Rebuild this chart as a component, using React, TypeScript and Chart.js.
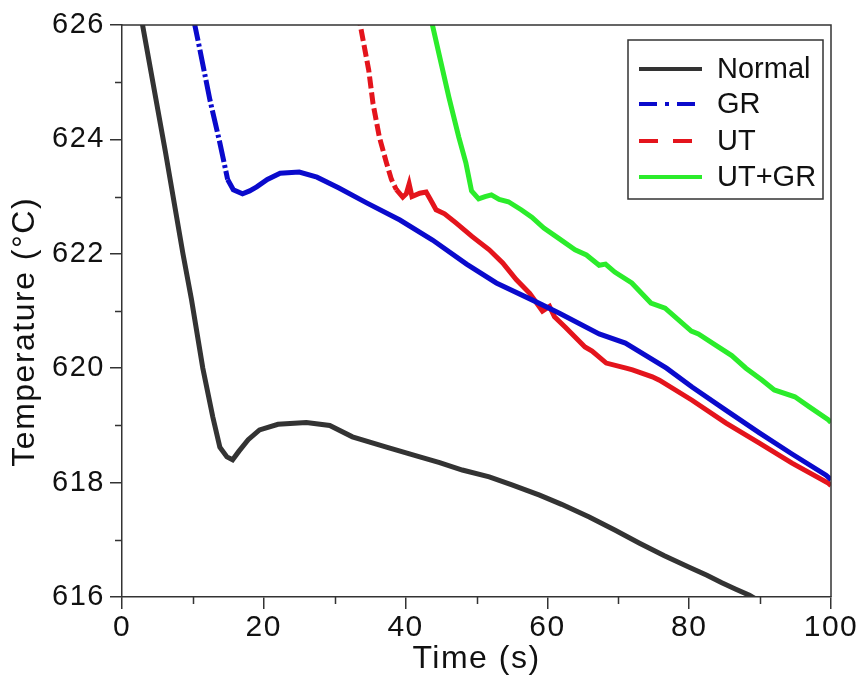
import React, { useEffect, useRef } from 'react';
import { Chart, registerables } from 'chart.js';

Chart.register(...registerables);

const FONT = "'Liberation Sans', Arial, Helvetica, sans-serif";

// ---- data ----
const seriesNames = ['Normal', 'GR', 'UT', 'UT+GR'];
const seriesColors = ['#333333', '#0a0acc', '#e4141c', '#2bec2b'];
const legendDashes = [[], [18, 8, 4, 8], [19, 15], []];

const normalTime = [2.6, 2.9, 6.1, 8.6, 9.8, 11.4, 12.8, 13.8, 14.8, 15.6, 16.5, 17.8, 19.4, 22.0, 26.0, 29.3, 32.5, 37.3, 42.0, 44.8, 48.0, 51.8, 55.0, 58.9, 62.0, 65.9, 69.5, 73.0, 76.5, 80.0, 82.5, 84.6, 86.5, 88.5, 89.6];
const normalTemp = [626.2, 626.0, 623.8, 622.0, 621.2, 620.0, 619.15, 618.62, 618.45, 618.4, 618.55, 618.75, 618.92, 619.02, 619.05, 619.0, 618.8, 618.62, 618.45, 618.35, 618.22, 618.1, 617.96, 617.78, 617.62, 617.4, 617.17, 616.94, 616.72, 616.52, 616.38, 616.25, 616.14, 616.03, 615.95];

const grTime = [10.1, 11.0, 12.4, 13.8, 14.9, 15.7, 17.0, 18.0, 19.0, 20.5, 22.3, 25.0, 27.5, 30.6, 34.5, 39.2, 43.8, 48.6, 52.8, 57.9, 61.7, 67.3, 71.0, 76.8, 80.4, 85.0, 89.9, 94.5, 99.3, 100];
const grTemp = [626.1, 625.56, 624.69, 623.94, 623.3, 623.12, 623.05, 623.1, 623.17, 623.3, 623.41, 623.43, 623.34, 623.15, 622.89, 622.59, 622.24, 621.82, 621.49, 621.19, 620.96, 620.6, 620.44, 620.0, 619.67, 619.28, 618.87, 618.5, 618.13, 618.05];

const utTime = [33.3, 34.8, 35.4, 36.3, 37.3, 38.0, 38.7, 39.6, 40.1, 40.5, 40.9, 42.0, 42.9, 43.5, 44.3, 45.5, 47.1, 49.4, 51.8, 53.7, 55.6, 57.5, 59.3, 60.3, 61.0, 62.5, 65.3, 66.3, 68.3, 71.1, 72.0, 74.8, 75.8, 80.4, 85.2, 89.9, 94.5, 99.6, 100];
const utTemp = [626.2, 625.21, 624.63, 624.04, 623.59, 623.3, 623.12, 622.99, 623.05, 623.22, 623.0, 623.06, 623.08, 622.95, 622.77, 622.7, 622.54, 622.3, 622.07, 621.84, 621.55, 621.31, 621.0, 621.08, 620.9, 620.72, 620.37, 620.3, 620.09, 620.0, 619.97, 619.85, 619.79, 619.44, 619.04, 618.69, 618.34, 617.99, 617.95];

const utgrTime = [43.6, 44.7, 46.1, 47.5, 48.5, 49.3, 50.3, 51.2, 52.1, 53.2, 54.5, 56.3, 57.8, 59.5, 61.6, 63.9, 65.5, 67.3, 68.2, 69.5, 71.9, 74.6, 76.6, 80.3, 81.3, 83.5, 86.0, 88.0, 90.3, 92.0, 94.9, 97.0, 99.6, 100];
const utgrTemp = [626.1, 625.5, 624.74, 624.04, 623.59, 623.1, 622.96, 623.0, 623.03, 622.95, 622.91, 622.77, 622.64, 622.45, 622.27, 622.07, 621.98, 621.8, 621.82, 621.68, 621.49, 621.14, 621.05, 620.65, 620.6, 620.42, 620.22, 620.0, 619.79, 619.62, 619.5, 619.32, 619.1, 619.05];

const xTickValues = [0, 20, 40, 60, 80, 100];
const xMinorValues = [10, 30, 50, 70, 90];
const yTickValues = [616, 618, 620, 622, 624, 626];
const yMinorValues = [617, 619, 621, 623, 625];

const xTitle = 'Time (s)';
const yTitle = 'Temperature (°C)';

function toPoints(t: number[], v: number[]) {
  return t.map((x, i) => ({ x, y: v[i] }));
}

const framePlugin = {
  id: 'frameAndLegend',
  beforeDraw(chart: any) {
    (chart.ctx as any).letterSpacing = '1.5px';
  },
  afterDraw(chart: any) {
    const ctx = chart.ctx as CanvasRenderingContext2D;
    (ctx as any).letterSpacing = '0px';
    const { left, top, right, bottom } = chart.chartArea;
    const xs = chart.scales.x;
    const ys = chart.scales.y;
    ctx.save();
    ctx.strokeStyle = '#333333';
    ctx.lineWidth = 1.5;
    ctx.beginPath();
    ctx.moveTo(left, top);
    ctx.lineTo(right, top);
    ctx.lineTo(right, bottom);
    ctx.stroke();
    // minor ticks
    ctx.beginPath();
    xMinorValues.forEach((v) => {
      const px = Math.round(xs.getPixelForValue(v)) + 0.5;
      ctx.moveTo(px, bottom);
      ctx.lineTo(px, bottom + 7);
    });
    yMinorValues.forEach((v) => {
      const py = Math.round(ys.getPixelForValue(v)) + 0.5;
      ctx.moveTo(left - 7, py);
      ctx.lineTo(left, py);
    });
    ctx.stroke();

    // legend inside the plot
    const bx = right - 203;
    const by = top + 15;
    const bw = 195;
    const bh = 159;
    ctx.fillStyle = '#ffffff';
    ctx.fillRect(bx, by, bw, bh);
    ctx.strokeStyle = '#333333';
    ctx.lineWidth = 1.5;
    ctx.strokeRect(bx, by, bw, bh);
    const rows = [29, 64, 101, 137];
    ctx.font = `29px ${FONT}`;
    ctx.textBaseline = 'middle';
    ctx.textAlign = 'left';
    chart.data.datasets.forEach((ds: any, i: number) => {
      const y = by + rows[i];
      ctx.save();
      ctx.strokeStyle = ds.borderColor;
      ctx.lineWidth = 4;
      ctx.lineCap = 'butt';
      ctx.setLineDash(legendDashes[i]);
      ctx.beginPath();
      ctx.moveTo(bx + 11, y);
      ctx.lineTo(bx + 74, y);
      ctx.stroke();
      ctx.restore();
      ctx.fillStyle = '#111111';
      ctx.fillText(ds.label, bx + 89, y + 1);
    });
    ctx.restore();
  },
};

export default function App() {
  const ref = useRef<HTMLCanvasElement | null>(null);

  useEffect(() => {
    if (!ref.current) return;
    const series = [
      toPoints(normalTime, normalTemp),
      toPoints(grTime, grTemp),
      toPoints(utTime, utTemp),
      toPoints(utgrTime, utgrTemp),
    ];
    const steepDash: ((c: any) => number[] | undefined)[] = [
      () => undefined,
      (c: any) => (c.p0.parsed.x < 14.9 ? [22, 3, 3, 3] : undefined),
      (c: any) => (c.p0.parsed.x < 38.5 ? [12, 4] : undefined),
      () => undefined,
    ];
    const chart = new Chart(ref.current, {
      type: 'line',
      data: {
        datasets: series.map((pts, i) => ({
          label: seriesNames[i],
          data: pts,
          borderColor: seriesColors[i],
          backgroundColor: seriesColors[i],
          borderWidth: 5,
          pointRadius: 0,
          tension: 0,
          fill: false,
          segment: { borderDash: steepDash[i] },
        })),
      },
      options: {
        responsive: false,
        animation: false,
        events: [],
        layout: { padding: { left: 0, right: 27, top: 25, bottom: 0 } },
        plugins: {
          legend: { display: false },
          tooltip: { enabled: false },
        },
        scales: {
          x: {
            type: 'linear',
            min: 0,
            max: 100,
            afterFit: (s: any) => {
              s.height = 78;
            },
            afterBuildTicks: (s: any) => {
              s.ticks = xTickValues.map((v) => ({ value: v }));
            },
            ticks: {
              color: '#111111',
              font: { family: FONT, size: 30 },
              padding: 1,
              maxRotation: 0,
              autoSkip: false,
            },
            grid: {
              display: true,
              drawOnChartArea: false,
              drawTicks: true,
              tickLength: 12,
              color: '#333333',
              lineWidth: 1.5,
            },
            border: { display: true, color: '#333333', width: 1.5 },
            title: {
              display: true,
              text: xTitle,
              color: '#111111',
              font: { family: FONT, size: 32, lineHeight: 1 },
              padding: { top: 0, bottom: 0 },
            },
          },
          y: {
            type: 'linear',
            min: 616,
            max: 626,
            afterFit: (s: any) => {
              s.width = 122;
            },
            afterBuildTicks: (s: any) => {
              s.ticks = yTickValues.map((v) => ({ value: v }));
            },
            ticks: {
              color: '#111111',
              font: { family: FONT, size: 29 },
              padding: 5,
              autoSkip: false,
            },
            grid: {
              display: true,
              drawOnChartArea: false,
              drawTicks: true,
              tickLength: 12,
              color: '#333333',
              lineWidth: 1.5,
            },
            border: { display: true, color: '#333333', width: 1.5 },
            title: {
              display: true,
              text: yTitle + '    ',
              color: '#111111',
              font: { family: FONT, size: 32, lineHeight: 1 },
              padding: { top: 9, bottom: 0 },
            },
          },
        },
      },
      plugins: [framePlugin],
    });
    return () => chart.destroy();
  }, []);

  return (
    <div style={{ position: 'absolute', left: 0, top: 0, width: 858, height: 675, background: '#ffffff' }}>
      <canvas ref={ref} width={858} height={675} style={{ width: 858, height: 675 }} />
    </div>
  );
}
